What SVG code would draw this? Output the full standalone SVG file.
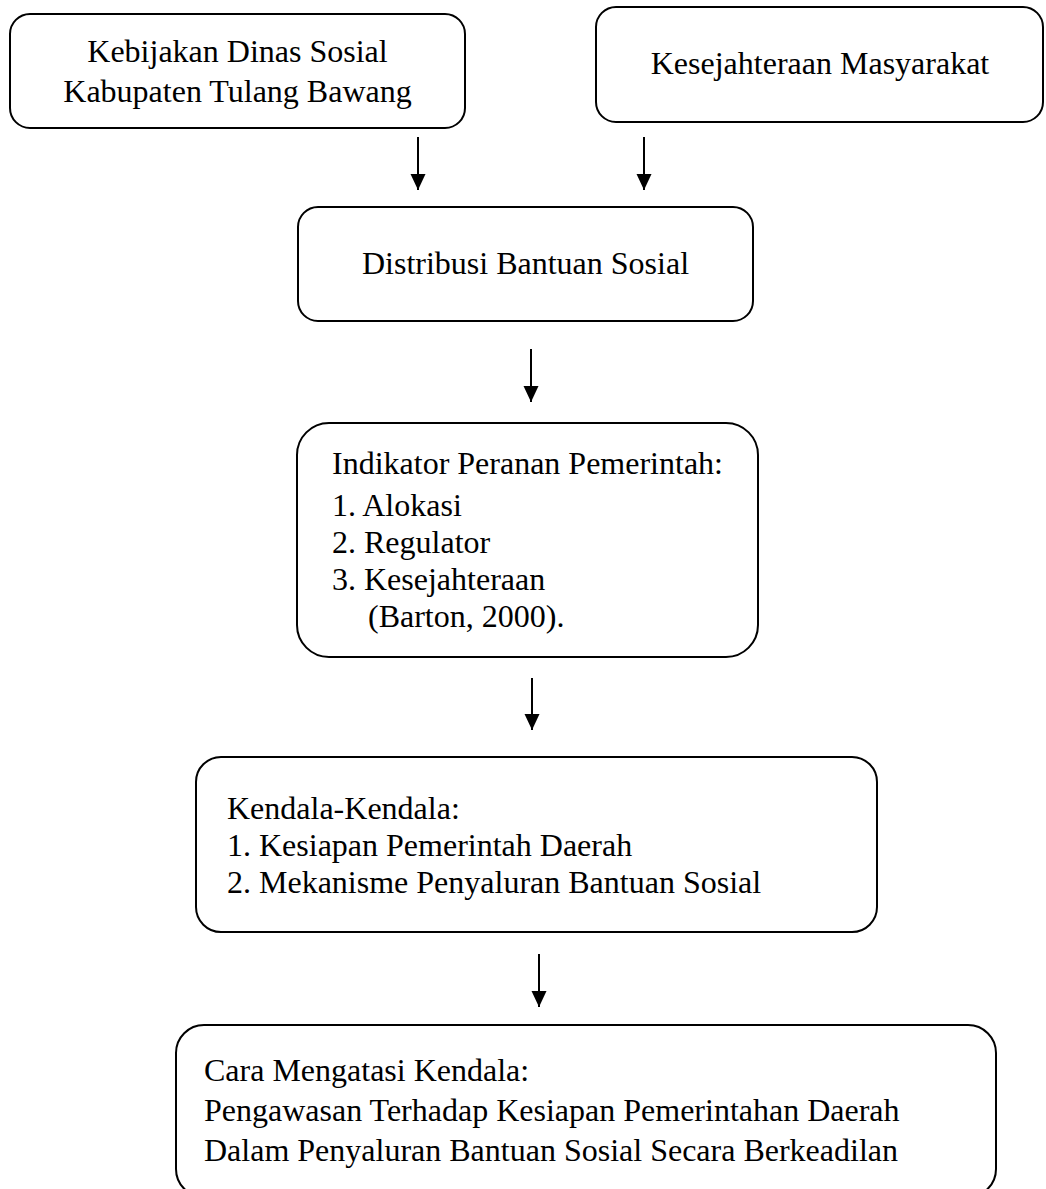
<svg xmlns="http://www.w3.org/2000/svg" width="1046" height="1189" viewBox="0 0 1046 1189">
<defs>
<style>
.box{fill:#fff;stroke:#000;stroke-width:2}
.t{font-family:"Liberation Serif","Times New Roman",serif;font-size:32px;fill:#000}
.c{text-anchor:middle}
.conn line{stroke:#000;stroke-width:2}
</style>
<marker id="ah" markerUnits="userSpaceOnUse" markerWidth="16" markerHeight="16" refX="16" refY="7.5" orient="auto">
<path d="M0,0 L16,7.5 L0,15 Z" fill="#000"/>
</marker>
</defs>
<rect width="1046" height="1189" fill="#fff"/>
<g id="node-kebijakan">
<rect class="box" x="10" y="14" width="455" height="114" rx="20"/>
<text class="t c" x="237.5" y="62">Kebijakan Dinas Sosial</text>
<text class="t c" x="237.5" y="102">Kabupaten Tulang Bawang</text>
</g>
<g id="node-kesejahteraan">
<rect class="box" x="596" y="7" width="447" height="115" rx="20"/>
<text class="t c" x="820" y="74">Kesejahteraan Masyarakat</text>
</g>
<g id="node-distribusi">
<rect class="box" x="298" y="207" width="455" height="114" rx="20"/>
<text class="t c" x="525.5" y="274">Distribusi Bantuan Sosial</text>
</g>
<g id="node-indikator">
<rect class="box" x="297" y="423" width="461" height="234" rx="32"/>
<text class="t" x="332" y="474">Indikator Peranan Pemerintah:</text>
<text class="t" x="332" y="516">1. Alokasi</text>
<text class="t" x="332" y="553">2. Regulator</text>
<text class="t" x="332" y="590">3. Kesejahteraan</text>
<text class="t" x="368" y="627">(Barton, 2000).</text>
</g>
<g id="node-kendala">
<rect class="box" x="196" y="757" width="681" height="175" rx="25"/>
<text class="t" x="227" y="819">Kendala-Kendala:</text>
<text class="t" x="227" y="856">1. Kesiapan Pemerintah Daerah</text>
<text class="t" x="227" y="893">2. Mekanisme Penyaluran Bantuan Sosial</text>
</g>
<g id="node-cara">
<rect class="box" x="176" y="1025" width="820" height="172" rx="28"/>
<text class="t" x="204" y="1081">Cara Mengatasi Kendala:</text>
<text class="t" x="204" y="1121">Pengawasan Terhadap Kesiapan Pemerintahan Daerah</text>
<text class="t" x="204" y="1161">Dalam Penyaluran Bantuan Sosial Secara Berkeadilan</text>
</g>
<g id="connectors" class="conn">
<line x1="418" y1="137" x2="418" y2="190" marker-end="url(#ah)"/>
<line x1="644" y1="137" x2="644" y2="190" marker-end="url(#ah)"/>
<line x1="531" y1="349" x2="531" y2="402" marker-end="url(#ah)"/>
<line x1="532" y1="678" x2="532" y2="730" marker-end="url(#ah)"/>
<line x1="539" y1="954" x2="539" y2="1007" marker-end="url(#ah)"/>
</g>
</svg>
